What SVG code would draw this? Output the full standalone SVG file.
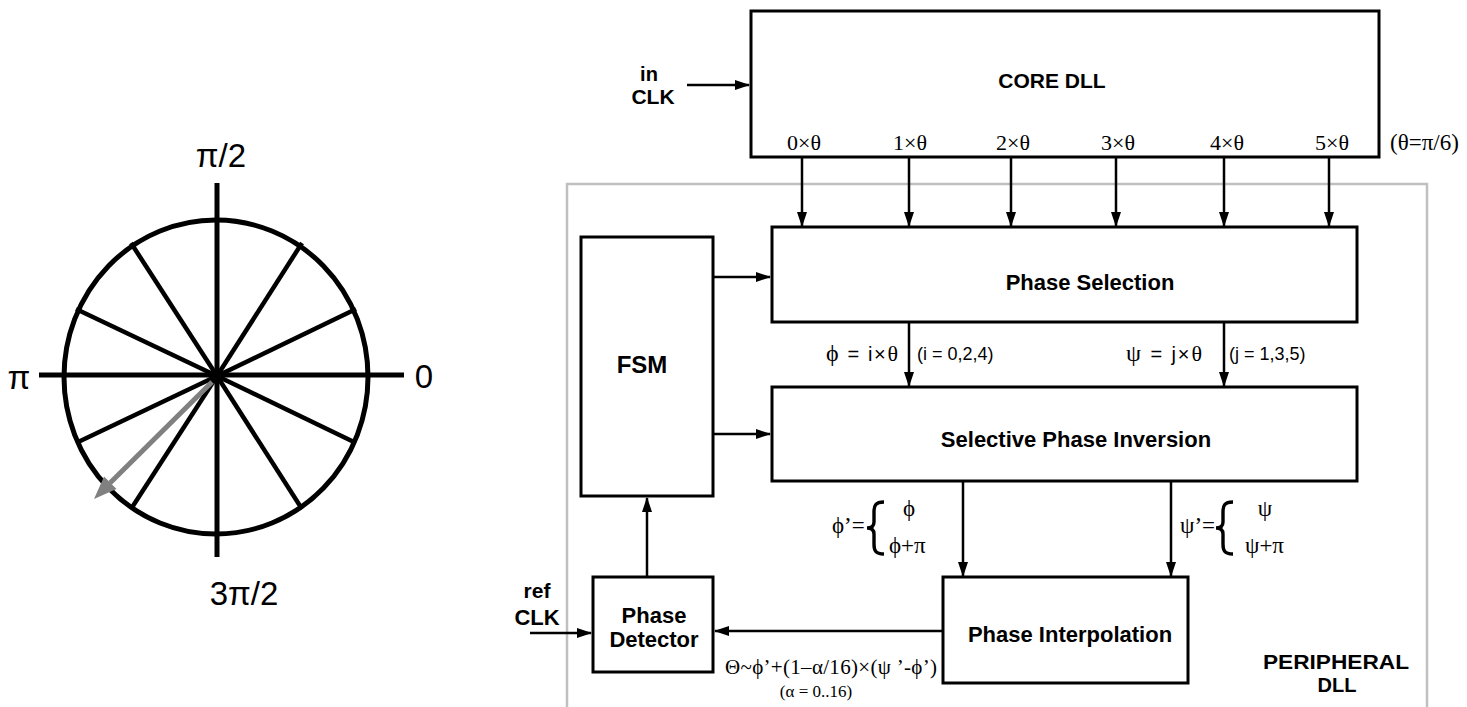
<svg xmlns="http://www.w3.org/2000/svg" width="1467" height="707" viewBox="0 0 1467 707">
<style>
.box{fill:#fff;stroke:#000;stroke-width:3}
.cn{stroke:#000;stroke-width:2.5;fill:none;marker-end:url(#ah)}
.b{font-family:"Liberation Sans",Arial,sans-serif;font-weight:bold;fill:#000;text-anchor:middle}
.s{font-family:"Liberation Sans",Arial,sans-serif;fill:#000}
.t{font-family:"Liberation Serif","Times New Roman",serif;fill:#000}
.ax{stroke:#000;stroke-width:5;fill:none}
.sp{stroke:#000;stroke-width:4.5;fill:none}
</style>
<defs>
<marker id="ah" markerUnits="userSpaceOnUse" markerWidth="15" markerHeight="10" refX="14" refY="5" orient="auto">
<path d="M0,0 L15,5 L0,10 z" fill="#000"/>
</marker>
</defs>
<rect width="1467" height="707" fill="#fff"/>

<g id="phase-circle">
<ellipse cx="216" cy="377" rx="152" ry="157" class="ax" stroke-width="4.5"/>
<line x1="39" y1="375" x2="404" y2="375" class="ax"/>
<line x1="217" y1="183" x2="217" y2="557" class="ax"/>
<line x1="217" y1="376" x2="302" y2="243" class="sp"/>
<line x1="217" y1="376" x2="356" y2="309" class="sp"/>
<line x1="217" y1="376" x2="131" y2="243" class="sp"/>
<line x1="217" y1="376" x2="76" y2="309" class="sp"/>
<line x1="217" y1="376" x2="302" y2="509" class="sp"/>
<line x1="217" y1="376" x2="356" y2="443" class="sp"/>
<line x1="217" y1="376" x2="131" y2="509" class="sp"/>
<line x1="217" y1="376" x2="76" y2="443" class="sp"/>
<line x1="212" y1="382" x2="110" y2="483" stroke="#808080" stroke-width="5"/>
<polygon points="94,499 116.5,488.9 104.1,476.5" fill="#808080"/>
<text x="221" y="167" class="s" font-size="33" text-anchor="middle">π/2</text>
<text x="244" y="605" class="s" font-size="33" text-anchor="middle">3π/2</text>
<text x="19" y="389" class="s" font-size="33" text-anchor="middle">π</text>
<text x="424" y="388" class="s" font-size="33" text-anchor="middle">0</text>
</g>

<g id="peripheral-dll">
<rect x="567" y="184" width="860" height="540" fill="none" stroke="#c0c0c0" stroke-width="2.5"/>
<text x="1336" y="669" class="b" font-size="20" textLength="146" lengthAdjust="spacingAndGlyphs">PERIPHERAL</text>
<text x="1337" y="692" class="b" font-size="20">DLL</text>
</g>

<g id="core-dll">
<rect x="751" y="11" width="628" height="146" class="box"/>
<text x="1052" y="88" class="b" font-size="21">CORE DLL</text>
<g class="t" font-size="22" text-anchor="middle">
<text x="804" y="150">0×θ</text>
<text x="910" y="150">1×θ</text>
<text x="1013" y="150">2×θ</text>
<text x="1118" y="150">3×θ</text>
<text x="1227" y="150">4×θ</text>
<text x="1332" y="150">5×θ</text>
</g>
<text x="1390" y="150" class="t" font-size="23">(θ=π/6)</text>
</g>

<g id="in-clk">
<text x="649" y="81" class="b" font-size="20">in</text>
<text x="653" y="104" class="b" font-size="21">CLK</text>
</g>

<g id="ref-clk">
<text x="537" y="598" class="b" font-size="21">ref</text>
<text x="537" y="625" class="b" font-size="22">CLK</text>
</g>

<g id="fsm">
<rect x="581" y="237" width="132" height="259" class="box"/>
<text x="642" y="373" class="b" font-size="24">FSM</text>
</g>

<g id="phase-selection">
<rect x="772" y="227" width="585" height="95" class="box"/>
<text x="1090" y="290" class="b" font-size="22">Phase Selection</text>
</g>

<g id="selective-phase-inversion">
<rect x="772" y="387" width="585" height="94" class="box"/>
<text x="1076" y="447" class="b" font-size="22">Selective Phase Inversion</text>
</g>

<g id="phase-interpolation">
<rect x="943" y="577" width="245" height="106" class="box"/>
<text x="1070" y="642" class="b" font-size="22">Phase Interpolation</text>
</g>

<g id="phase-detector">
<rect x="593" y="577" width="120" height="95" class="box"/>
<text x="654" y="623" class="b" font-size="22">Phase</text>
<text x="654" y="647" class="b" font-size="22">Detector</text>
</g>

<g id="connectors">
<line x1="687" y1="85" x2="749" y2="85" class="cn"/>
<line x1="802" y1="157" x2="802" y2="226" class="cn"/>
<line x1="909" y1="157" x2="909" y2="226" class="cn"/>
<line x1="1011" y1="157" x2="1011" y2="226" class="cn"/>
<line x1="1116" y1="157" x2="1116" y2="226" class="cn"/>
<line x1="1224" y1="157" x2="1224" y2="226" class="cn"/>
<line x1="1329" y1="157" x2="1329" y2="226" class="cn"/>
<line x1="713" y1="277" x2="770" y2="277" class="cn"/>
<line x1="713" y1="434" x2="770" y2="434" class="cn"/>
<line x1="909" y1="322" x2="909" y2="386" class="cn"/>
<line x1="1224" y1="322" x2="1224" y2="386" class="cn"/>
<line x1="963" y1="481" x2="963" y2="576" class="cn"/>
<line x1="1171" y1="481" x2="1171" y2="576" class="cn"/>
<line x1="943" y1="631" x2="715" y2="631" class="cn"/>
<line x1="647" y1="577" x2="647" y2="498" class="cn"/>
<line x1="530" y1="633" x2="591" y2="633" class="cn"/>
</g>

<g id="labels">
<text x="826" y="361" class="s" font-size="20" textLength="72" lengthAdjust="spacing"><tspan class="t" font-size="24">ϕ</tspan> = i×<tspan class="t" font-size="22">θ</tspan></text>
<text x="917" y="360" class="s" font-size="18">(i = 0,2,4)</text>
<text x="1126" y="361" class="s" font-size="20" textLength="76" lengthAdjust="spacing"><tspan class="t" font-size="24">ψ</tspan> = j×<tspan class="t" font-size="22">θ</tspan></text>
<text x="1229" y="360" class="s" font-size="18">(j = 1,3,5)</text>

<text x="832" y="533" class="t" font-size="23">ϕ’=</text>
<path d="M884,502 C875,502 874,506 874,512 L874,522 C874,526 872,528 867,528 C872,528 874,530 874,534 L874,544 C874,550 875,554 884,554" fill="none" stroke="#000" stroke-width="3.4"/>
<text x="909" y="516" class="t" font-size="23" text-anchor="middle">ϕ</text>
<text x="889" y="553" class="t" font-size="23">ϕ+π</text>

<text x="1180" y="533" class="t" font-size="23">ψ’=</text>
<path d="M1233,502 C1224,502 1223,506 1223,512 L1223,522 C1223,526 1221,528 1216,528 C1221,528 1223,530 1223,534 L1223,544 C1223,550 1224,554 1233,554" fill="none" stroke="#000" stroke-width="3.4"/>
<text x="1265" y="516" class="t" font-size="23" text-anchor="middle">ψ</text>
<text x="1245" y="553" class="t" font-size="23">ψ+π</text>

<text x="725" y="674" class="t" font-size="21" textLength="212" lengthAdjust="spacing">Θ~ϕ’+(1–α/16)×(ψ ’-ϕ’)</text>
<text x="816" y="697" class="t" font-size="17" text-anchor="middle">(α = 0..16)</text>
</g>
</svg>
